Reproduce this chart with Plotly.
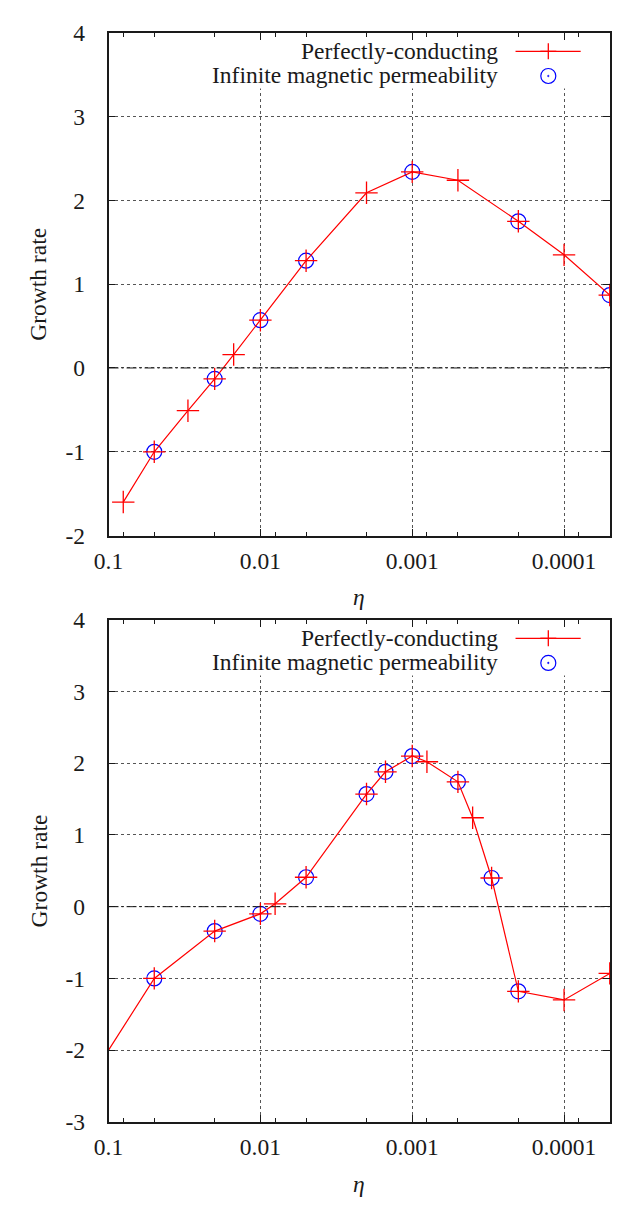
import plotly.graph_objects as go

# ---------------- data ----------------
eta_tick_vals = [0.1, 0.01, 0.001, 0.0001]
eta_tick_text = ["0.1", "0.01", "0.001", "0.0001"]
eta_minor_vals = [0.08, 0.05, 0.02, 0.008, 0.005, 0.002, 0.0008, 0.0005, 0.0002, 0.00008]

top_y_vals = [-2, -1, 0, 1, 2, 3, 4]
top_y_text = ["-2", "-1", "0", "1", "2", "3", "4"]
bot_y_vals = [-3, -2, -1, 0, 1, 2, 3, 4]
bot_y_text = ["-3", "-2", "-1", "0", "1", "2", "3", "4"]

series_names = ["Perfectly-conducting", "Infinite magnetic permeability"]

# Top panel
top_pc_eta = [0.08, 0.05, 0.03, 0.02, 0.015, 0.01, 0.005, 0.002, 0.001, 0.0005, 0.0002, 0.0001, 0.00005]
top_pc_rate = [-1.6, -1.0, -0.51, -0.13, 0.16, 0.57, 1.28, 2.09, 2.34, 2.24, 1.75, 1.35, 0.87]
top_imp_eta = [0.05, 0.02, 0.01, 0.005, 0.001, 0.0002, 0.00005]
top_imp_rate = [-1.0, -0.13, 0.57, 1.28, 2.34, 1.75, 0.87]

# Bottom panel
bot_pc_eta = [0.1, 0.05, 0.02, 0.01, 0.008, 0.005, 0.002, 0.0015, 0.001, 0.0008,
              0.0005, 0.0004, 0.0003, 0.0002, 0.0001, 0.00005]
bot_pc_rate = [-2.0, -1.0, -0.34, -0.10, 0.04, 0.41, 1.57, 1.88, 2.10, 2.02,
               1.74, 1.24, 0.40, -1.18, -1.30, -0.93]
bot_imp_eta = [0.05, 0.02, 0.01, 0.005, 0.002, 0.0015, 0.001, 0.0005, 0.0003, 0.0002]
bot_imp_rate = [-1.0, -0.34, -0.10, 0.41, 1.57, 1.88, 2.10, 1.74, 0.40, -1.18]

# ---------------- layout geometry ----------------
# the page body has an 8px margin, so the figure is 8px smaller and shifted
OFF = 8
W, H = 620 - OFF, 1207 - OFF
FONT = "Liberation Serif"
FS = 23.5
RED = "#ff0000"
BLUE = "#0000ff"
INK = "#1a1a1a"

x_dom = [(95.7 - OFF) / W, (609.5 - OFF) / W]
top_dom = [1 - (534 - OFF) / H, 1 - (20 - OFF) / H]
bot_dom = [1 - (1133.3 - OFF) / H, 1 - (620 - OFF) / H]
PANEL_H = 514.0

fig = go.Figure()

panels = [
    ("x", "y", top_pc_eta, top_pc_rate, top_imp_eta, top_imp_rate),
    ("x2", "y2", bot_pc_eta, bot_pc_rate, bot_imp_eta, bot_imp_rate),
]
for xa, ya, pe, pr, ie, ir in panels:
    fig.add_trace(go.Scatter(
        x=ie, y=ir, xaxis=xa, yaxis=ya, mode="markers", name=series_names[1],
        marker=dict(symbol="circle-open-dot", size=15, color=BLUE, line=dict(width=1.2, color=BLUE)),
        cliponaxis=False, showlegend=False))
    fig.add_trace(go.Scatter(
        x=pe, y=pr, xaxis=xa, yaxis=ya, mode="lines+markers", name=series_names[0],
        line=dict(color=RED, width=1.2),
        marker=dict(symbol="cross-thin-open", size=16, color=RED, line=dict(width=1.3, color=RED)),
        cliponaxis=False, showlegend=False))


def xaxis_cfg(anchor):
    return dict(
        type="log", range=[-1, -4.30103], domain=x_dom, anchor=anchor,
        tickmode="array", tickvals=eta_tick_vals, ticktext=eta_tick_text,
        ticks="inside", ticklen=7, tickwidth=1.2, tickcolor=INK,
        showline=True, linecolor=INK, linewidth=1.6, mirror="allticks",
        showgrid=True, gridcolor="#555555", griddash="dot", gridwidth=1,
        zeroline=False, ticklabelstandoff=3,
        tickfont=dict(family=FONT, size=FS, color=INK),
        minor=dict(tickmode="array", tickvals=eta_minor_vals, ticks="inside",
                   ticklen=4, tickwidth=1.1, tickcolor=INK, showgrid=False),
    )


def yaxis_cfg(anchor, dom, rng, vals, text):
    return dict(
        range=rng, domain=dom, anchor=anchor,
        tickmode="array", tickvals=vals, ticktext=text,
        ticks="inside", ticklen=7, tickwidth=1.2, tickcolor=INK,
        showline=True, linecolor=INK, linewidth=1.6, mirror="allticks",
        showgrid=True, gridcolor="#555555", griddash="dot", gridwidth=1,
        zeroline=False, ticklabelstandoff=17,
        tickfont=dict(family=FONT, size=FS, color=INK),
    )


fig.update_layout(
    width=W, height=H,
    margin=dict(l=0, r=0, t=0, b=0),
    paper_bgcolor="white", plot_bgcolor="white",
    showlegend=False,
    font=dict(family=FONT, size=FS, color=INK),
    xaxis=xaxis_cfg("y"),
    yaxis=yaxis_cfg("x", top_dom, [-2, 4], top_y_vals, top_y_text),
    xaxis2=xaxis_cfg("y2"),
    yaxis2=yaxis_cfg("x2", bot_dom, [-3, 4], bot_y_vals, bot_y_text),
)

shapes = []
annotations = []
box_top = 1 - 7.5 / PANEL_H
for xa, ya, dom in [("x", "y", top_dom), ("x2", "y2", bot_dom)]:
    xd, yd = xa + " domain", ya + " domain"
    # opaque key box hiding the grid
    shapes.append(dict(type="rect", xref=xd, yref=yd, x0=0.19, x1=0.996, y0=0.889, y1=box_top,
                       fillcolor="white", line=dict(width=0), layer="above"))
    # zero reference line (dash-dot)
    shapes.append(dict(type="line", xref=xd, yref=ya, x0=0, x1=1, y0=0, y1=0,
                       line=dict(color=INK, width=1, dash="10px,3px,2px,3px"), layer="above"))
    # key samples
    shapes.append(dict(type="line", xref=xd, yref=yd, x0=0.812, x1=0.942, y0=0.963, y1=0.963,
                       line=dict(color=RED, width=1.2), layer="above"))
    shapes.append(dict(type="line", xref=xd, yref=yd, xsizemode="pixel", ysizemode="pixel",
                       xanchor=0.8774, yanchor=0.963, x0=0, x1=0, y0=-8, y1=8,
                       line=dict(color=RED, width=1.3), layer="above"))
    shapes.append(dict(type="line", xref=xd, yref=yd, xsizemode="pixel", ysizemode="pixel",
                       xanchor=0.8774, yanchor=0.963, x0=-8, x1=8, y0=0, y1=0,
                       line=dict(color=RED, width=1.3), layer="above"))
    shapes.append(dict(type="circle", xref=xd, yref=yd, xsizemode="pixel", ysizemode="pixel",
                       xanchor=0.8774, yanchor=0.914, x0=-7.5, x1=7.5, y0=-7.5, y1=7.5,
                       line=dict(color=BLUE, width=1.2), layer="above"))
    shapes.append(dict(type="circle", xref=xd, yref=yd, xsizemode="pixel", ysizemode="pixel",
                       xanchor=0.8774, yanchor=0.914, x0=-0.8, x1=0.8, y0=-0.8, y1=0.8,
                       fillcolor=BLUE, line=dict(color=BLUE, width=0.5), layer="above"))
    # key texts
    annotations.append(dict(xref=xd, yref=yd, x=0.781, y=0.963, xanchor="right", yanchor="middle",
                            text=series_names[0], showarrow=False,
                            font=dict(family=FONT, size=FS, color=INK)))
    annotations.append(dict(xref=xd, yref=yd, x=0.781, y=0.915, xanchor="right", yanchor="middle",
                            text=series_names[1], showarrow=False,
                            font=dict(family=FONT, size=FS, color=INK)))
    # axis titles
    annotations.append(dict(xref="paper", yref="paper", x=(24 - OFF) / W, y=(dom[0] + dom[1]) / 2,
                            xanchor="center", yanchor="middle", textangle=-90,
                            text="Growth rate", showarrow=False,
                            font=dict(family=FONT, size=FS, color=INK)))
    annotations.append(dict(xref="paper", yref="paper", x=(x_dom[0] + x_dom[1]) / 2,
                            y=dom[0] - 63 / H, xanchor="center", yanchor="middle",
                            text="<i>η</i>", showarrow=False,
                            font=dict(family=FONT, size=FS, color=INK)))

fig.update_layout(shapes=shapes, annotations=annotations)

fig.write_html("out.html", config={"displayModeBar": False})
